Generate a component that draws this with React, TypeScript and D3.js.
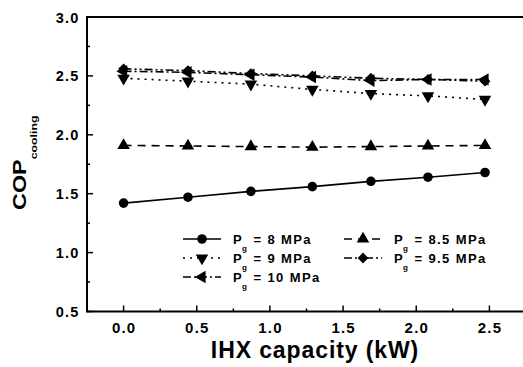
import { useEffect, useRef } from "react";
import * as d3 from "d3";

// IHX capacity (kW)
const capacity = [0, 0.44, 0.87, 1.29, 1.69, 2.08, 2.47];

// COP cooling per gas cooler pressure
const cop8 = [1.42, 1.47, 1.52, 1.56, 1.605, 1.64, 1.68];
const cop85 = [1.91, 1.905, 1.9, 1.895, 1.9, 1.905, 1.91];
const cop9 = [2.48, 2.455, 2.43, 2.385, 2.35, 2.33, 2.3];
const cop95 = [2.56, 2.545, 2.52, 2.5, 2.48, 2.47, 2.455];
const cop10 = [2.54, 2.53, 2.51, 2.49, 2.46, 2.47, 2.47];

const labels = ["8", "8.5", "9", "9.5", "10"];
const xTicks = [0, 0.5, 1, 1.5, 2, 2.5];
const yTicks = [0.5, 1, 1.5, 2, 2.5, 3];

export default function App() {
  const ref = useRef<SVGSVGElement>(null);

  useEffect(() => {
    const width = 523;
    const height = 367;
    const margin = { top: 17, right: -3, bottom: 55.5, left: 87 };
    const svg = d3.select(ref.current);
    svg.selectAll("*").remove();

    const x = d3.scaleLinear().domain([-0.25, 2.75]).range([margin.left, width - margin.right]);
    const y = d3.scaleLinear().domain([0.5, 3]).range([height - margin.bottom, margin.top]);

    const font = "'Liberation Sans', Arial, sans-serif";
    const g = svg.append("g");

    // frame (no right edge visible)
    g.append("path")
      .attr("d", `M${x(2.75)},${y(3)}H${x(-0.25)}V${y(0.5)}H${x(2.75)}`)
      .attr("fill", "none")
      .attr("stroke", "#000")
      .attr("stroke-width", 2);

    const isMajor = (d: number) => Math.abs(d * 2 - Math.round(d * 2)) < 1e-6;

    // x ticks (inward)
    g.selectAll(".xt")
      .data(d3.range(-0.25, 2.76, 0.25))
      .enter()
      .append("line")
      .attr("x1", d => x(d))
      .attr("x2", d => x(d))
      .attr("y1", y(0.5))
      .attr("y2", d => y(0.5) - (isMajor(d) ? 6 : 3))
      .attr("stroke", "#000")
      .attr("stroke-width", 1.5);
    g.selectAll(".xl")
      .data(xTicks)
      .enter()
      .append("text")
      .attr("x", d => x(d) + 0.6)
      .attr("y", y(0.5) + 21)
      .attr("text-anchor", "middle")
      .attr("font-family", font)
      .attr("font-weight", "bold")
      .attr("font-size", 15)
      .attr("letter-spacing", 1.2)
      .text(d => d.toFixed(1));

    // y ticks (inward)
    g.selectAll(".yt")
      .data(d3.range(0.5, 3.01, 0.25))
      .enter()
      .append("line")
      .attr("x1", x(-0.25))
      .attr("x2", d => x(-0.25) + (isMajor(d) ? 6 : 3))
      .attr("y1", d => y(d))
      .attr("y2", d => y(d))
      .attr("stroke", "#000")
      .attr("stroke-width", 1.5);
    g.selectAll(".yl")
      .data(yTicks)
      .enter()
      .append("text")
      .attr("x", x(-0.25) - 7.5)
      .attr("y", d => y(d) + 5.5)
      .attr("text-anchor", "end")
      .attr("font-family", font)
      .attr("font-weight", "bold")
      .attr("font-size", 14.5)
      .attr("letter-spacing", 1.2)
      .text(d => d.toFixed(1));

    // axis titles
    g.append("text")
      .attr("x", 315)
      .attr("y", 358)
      .attr("text-anchor", "middle")
      .attr("font-family", font)
      .attr("font-weight", "bold")
      .attr("font-size", 23)
      .attr("letter-spacing", 0.9)
      .text("IHX capacity (kW)");

    const yt = g.append("text")
      .attr("transform", `translate(26,210) rotate(-90) scale(1.3,1)`)
      .attr("font-family", font)
      .attr("font-weight", "bold")
      .attr("font-size", 18);
    yt.append("tspan").text("COP");
    yt.append("tspan").attr("font-size", 9.5).attr("dy", 11).text("cooling");

    // series
    const series = [
      { vals: cop8, dash: null, sym: "circle" },
      { vals: cop85, dash: "8,6", sym: "up" },
      { vals: cop9, dash: "2,5", sym: "down" },
      { vals: cop95, dash: "8,3,2,3,2,3", sym: "diamond" },
      { vals: cop10, dash: "8,3,2,3", sym: "left" },
    ];

    const marker = (sel: any, sym: string, cx: number, cy: number) => {
      let path: string;
      if (sym === "circle") path = d3.symbol(d3.symbolCircle, 72)()!;
      else if (sym === "diamond") path = d3.symbol(d3.symbolSquare, 58)()!;
      else path = d3.symbol(d3.symbolTriangle, 68)()!;
      const rot = sym === "down" ? 180 : sym === "left" ? -90 : sym === "diamond" ? 45 : 0;
      sel.append("path")
        .attr("d", path)
        .attr("transform", `translate(${cx},${cy}) rotate(${rot})`)
        .attr("fill", "#000");
    };

    const line = d3.line<number>().x((_, i) => x(capacity[i])).y(d => y(d));

    series.forEach(s => {
      g.append("path")
        .attr("d", line(s.vals))
        .attr("fill", "none")
        .attr("stroke", "#000")
        .attr("stroke-width", 1.6)
        .attr("stroke-dasharray", s.dash);
      s.vals.forEach((v, i) => marker(g, s.sym, x(capacity[i]), y(v)));
    });

    // legend
    const legendPos = [
      [183, 239],
      [344, 239],
      [183, 258],
      [344, 258],
      [183, 277],
    ];
    series.forEach((s, i) => {
      const [lx, ly] = legendPos[i];
      g.append("line")
        .attr("x1", lx)
        .attr("x2", lx + 38)
        .attr("y1", ly)
        .attr("y2", ly)
        .attr("stroke", "#000")
        .attr("stroke-width", 1.6)
        .attr("stroke-dasharray", s.dash);
      marker(g, s.sym, lx + 19, ly);
      const t = g.append("text")
        .attr("x", lx + 50)
        .attr("y", ly + 4.5)
        .attr("font-family", font)
        .attr("font-weight", "bold")
        .attr("font-size", 13)
        .attr("letter-spacing", 1.4);
      t.append("tspan").text("P");
      t.append("tspan").attr("font-size", 8).attr("dy", 7).attr("dx", -1).text("g");
      t.append("tspan").attr("dy", -7).text(` = ${labels[i]} MPa`);
    });
  }, []);

  return (
    <svg
      ref={ref}
      width={523}
      height={367}
      style={{ position: "absolute", left: 0, top: 0, background: "#fff" }}
    />
  );
}
